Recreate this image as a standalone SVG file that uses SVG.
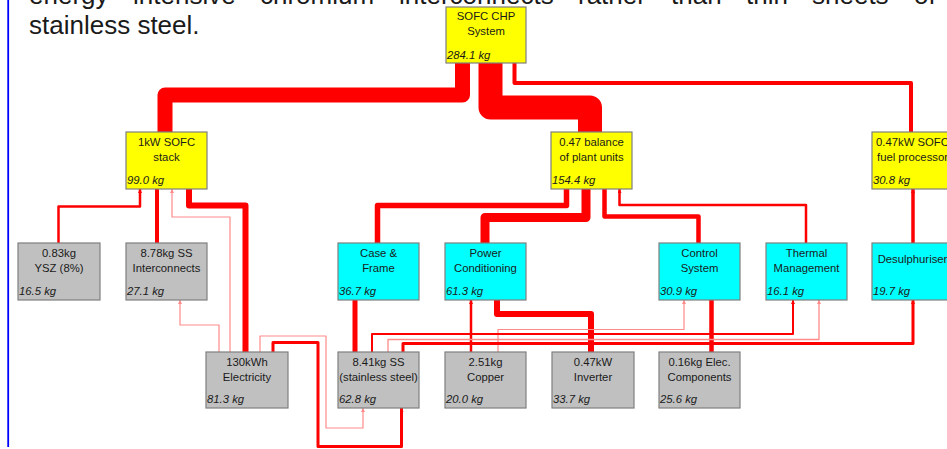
<svg xmlns="http://www.w3.org/2000/svg" width="947" height="449" viewBox="0 0 947 449">
<defs>
<style>
.para{font-family:"Liberation Sans",Arial,sans-serif;font-size:26px;fill:#1a1a1a}
.n rect{stroke:#7f7f7f;stroke-width:1.2}
.y rect{fill:#ffff00}
.c rect{fill:#00ffff}
.g rect{fill:#c0c0c0}
.n text{font-family:"Liberation Sans",Arial,sans-serif;font-size:11.3px;fill:#1a1a1a}
.n text.l{text-anchor:middle}
.n text.v{font-style:italic}
#connectors path{fill:none;stroke-linejoin:round}
.r{stroke:#ff0000}
.p{stroke:#ff8a8a}
</style>
<marker id="ar" viewBox="0 0 4 4" markerWidth="4" markerHeight="4" markerUnits="userSpaceOnUse" refX="4" refY="2" orient="auto"><path d="M0,0 L4,2 L0,4 z" fill="#ff0000"/></marker>
<marker id="ap" viewBox="0 0 4 4" markerWidth="4" markerHeight="4" markerUnits="userSpaceOnUse" refX="4" refY="2" orient="auto"><path d="M0,0 L4,2 L0,4 z" fill="#ff8a8a"/></marker>
</defs>
<rect width="947" height="449" fill="#ffffff"/>
<line x1="8.2" y1="0" x2="8.2" y2="447" stroke="#0000ff" stroke-width="1.8"/>
<g class="para">
<text x="29" y="4">energy</text>
<text x="133" y="4">intensive</text>
<text x="260" y="4">chromium</text>
<text x="399" y="4">interconnects</text>
<text x="578" y="4">rather</text>
<text x="671" y="4">than</text>
<text x="746" y="4">thin</text>
<text x="812" y="4">sheets</text>
<text x="914" y="4">of</text>
<text x="29" y="34">stainless steel.</text>
</g>
<g id="connectors">
<path class="r" stroke-width="15" d="M165,132 V95 H462.5 V63"/>
<path class="r" stroke-width="24" d="M590,132 V107.5 H490.5 V63"/>
<path class="r" stroke-width="4" d="M911,132 V83 H514.5 V63" marker-end="url(#ar)"/>
<path class="r" stroke-width="2.5" d="M58.5,243 V206.5 H140 V189" marker-end="url(#ar)"/>
<path class="r" stroke-width="4" d="M157,243 V189" marker-end="url(#ar)"/>
<path class="p" stroke-width="1.2" d="M230,352 V217 H172 V189" marker-end="url(#ap)"/>
<path class="r" stroke-width="6" d="M245.5,352 V205.5 H189 V189"/>
<path class="p" stroke-width="1.2" d="M219,352 V325 H180 V300" marker-end="url(#ap)"/>
<path class="p" stroke-width="1.2" d="M260,352 V336 H326 V428 H363 V408" marker-end="url(#ap)"/>
<path class="r" stroke-width="3" d="M273,352 V342.5 H318 V446.5 H401.5 V408" marker-end="url(#ar)"/>
<path class="r" stroke-width="5.5" d="M377.5,243 V205.5 H566.5 V189"/>
<path class="r" stroke-width="9" d="M485,243 V217.5 H586 V189"/>
<path class="r" stroke-width="4.5" d="M698.5,243 V216.5 H604.5 V189"/>
<path class="r" stroke-width="2.5" d="M806,243 V205 H619.5 V189" marker-end="url(#ar)"/>
<path class="r" stroke-width="3.5" d="M913,243 V189" marker-end="url(#ar)"/>
<path class="r" stroke-width="5" d="M355,352 V300"/>
<path class="r" stroke-width="2.5" d="M471,352 V300" marker-end="url(#ar)"/>
<path class="r" stroke-width="6" d="M591,352 V314 H497 V300"/>
<path class="p" stroke-width="1.2" d="M498,352 V329.5 H684 V300" marker-end="url(#ap)"/>
<path class="r" stroke-width="4.5" d="M711.5,352 V300"/>
<path class="r" stroke-width="2" d="M372,352 V334 H793 V300" marker-end="url(#ar)"/>
<path class="p" stroke-width="1.3" d="M388,352 V339.5 H819 V300" marker-end="url(#ap)"/>
<path class="r" stroke-width="3" d="M403,352 V343.5 H913 V300" marker-end="url(#ar)"/>
</g>
<g id="chp" class="n y"><rect x="446" y="7" width="80" height="56"/><text class="l" x="486" y="20">SOFC CHP</text><text class="l" x="486" y="35">System</text><text class="v" x="447" y="59">284.1 kg</text></g>
<g id="stack" class="n y"><rect x="126" y="132" width="81" height="57"/><text class="l" x="166.5" y="146">1kW SOFC</text><text class="l" x="166.5" y="161">stack</text><text class="v" x="127" y="183.5">99.0 kg</text></g>
<g id="bop" class="n y"><rect x="551" y="132" width="81" height="57"/><text class="l" x="591.5" y="146">0.47 balance</text><text class="l" x="591.5" y="161">of plant units</text><text class="v" x="552" y="183.5">154.4 kg</text></g>
<g id="fuelproc" class="n y"><rect x="872" y="132" width="81" height="57"/><text class="l" x="912.5" y="146">0.47kW SOFC</text><text class="l" x="912.5" y="161">fuel processor</text><text class="v" x="873" y="183.5">30.8 kg</text></g>
<g id="ysz" class="n g"><rect x="18" y="243" width="82" height="57"/><text class="l" x="59" y="257">0.83kg</text><text class="l" x="59" y="272">YSZ (8%)</text><text class="v" x="19" y="294.5">16.5 kg</text></g>
<g id="interconnects" class="n g"><rect x="126" y="243" width="81" height="57"/><text class="l" x="166.5" y="257">8.78kg SS</text><text class="l" x="166.5" y="272">Interconnects</text><text class="v" x="127" y="294.5">27.1 kg</text></g>
<g id="case" class="n c"><rect x="338" y="243" width="81" height="57"/><text class="l" x="378.5" y="257">Case &amp;</text><text class="l" x="378.5" y="272">Frame</text><text class="v" x="339" y="294.5">36.7 kg</text></g>
<g id="powercond" class="n c"><rect x="445" y="243" width="81" height="57"/><text class="l" x="485.5" y="257">Power</text><text class="l" x="485.5" y="272">Conditioning</text><text class="v" x="446" y="294.5">61.3 kg</text></g>
<g id="control" class="n c"><rect x="659" y="243" width="81" height="57"/><text class="l" x="699.5" y="257">Control</text><text class="l" x="699.5" y="272">System</text><text class="v" x="660" y="294.5">30.9 kg</text></g>
<g id="thermal" class="n c"><rect x="766" y="243" width="81" height="57"/><text class="l" x="806.5" y="257">Thermal</text><text class="l" x="806.5" y="272">Management</text><text class="v" x="767" y="294.5">16.1 kg</text></g>
<g id="desulph" class="n c"><rect x="872" y="243" width="81" height="57"/><text class="l" x="912.5" y="263">Desulphuriser</text><text class="v" x="873" y="294.5">19.7 kg</text></g>
<g id="electricity" class="n g"><rect x="206" y="352" width="82" height="56"/><text class="l" x="247" y="366">130kWh</text><text class="l" x="247" y="381">Electricity</text><text class="v" x="207" y="403">81.3 kg</text></g>
<g id="ss" class="n g"><rect x="338" y="352" width="81" height="56"/><text class="l" x="378.5" y="366">8.41kg SS</text><text class="l" x="378.5" y="381">(stainless steel)</text><text class="v" x="339" y="403">62.8 kg</text></g>
<g id="copper" class="n g"><rect x="445" y="352" width="81" height="56"/><text class="l" x="485.5" y="366">2.51kg</text><text class="l" x="485.5" y="381">Copper</text><text class="v" x="446" y="403">20.0 kg</text></g>
<g id="inverter" class="n g"><rect x="552" y="352" width="82" height="56"/><text class="l" x="593" y="366">0.47kW</text><text class="l" x="593" y="381">Inverter</text><text class="v" x="553" y="403">33.7 kg</text></g>
<g id="eleccomp" class="n g"><rect x="659" y="352" width="81" height="56"/><text class="l" x="699.5" y="366">0.16kg Elec.</text><text class="l" x="699.5" y="381">Components</text><text class="v" x="660" y="403">25.6 kg</text></g>
</svg>
